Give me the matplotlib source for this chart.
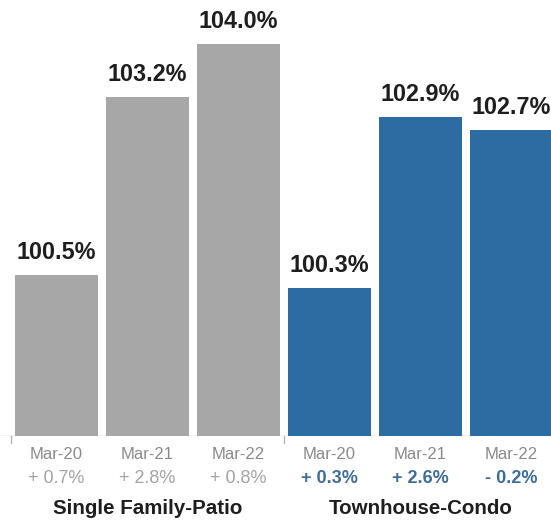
import matplotlib
matplotlib.use("Agg")
import matplotlib.pyplot as plt
from matplotlib.transforms import blended_transform_factory

plt.rcParams["font.family"] = ["Liberation Sans", "DejaVu Sans"]

# Data
groups = ["Single Family-Patio", "Townhouse-Condo"]
periods = ["Mar-20", "Mar-21", "Mar-22"]
single_family = [100.5, 103.2, 104.0]
townhouse = [100.3, 102.9, 102.7]
sf_change = ["+ 0.7%", "+ 2.8%", "+ 0.8%"]
th_change = ["+ 0.3%", "+ 2.6%", "- 0.2%"]

gray = "#a7a7a7"
blue = "#2d6ba3"
label_dark = "#1e1e1e"

W, H = 551, 523
fig = plt.figure(figsize=(W / 100, H / 100), dpi=100)
base_px = 436
ax = fig.add_axes([0, 1 - base_px / H, 1, base_px / H])

pitch = 91.0
x0 = 56.5
ax.set_xlim(-x0 / pitch, (W - x0) / pitch)
px_per_unit = 66.0
ymin = 98.06
ax.set_ylim(ymin, ymin + base_px / px_per_unit)

values = single_family + townhouse
colors = [gray] * 3 + [blue] * 3
xs = list(range(len(values)))
bar_w = 83 / pitch
ax.bar(xs, [v - ymin for v in values], bottom=ymin, width=bar_w,
       color=colors, edgecolor="none", zorder=2)

# Value labels above bars
for x, v in zip(xs, values):
    ax.annotate(f"{v:.1f}%", xy=(x, v), xytext=(0, 11.5),
                textcoords="offset points", ha="center", va="baseline",
                fontsize=16.8, fontweight="bold", color=label_dark)

# Baseline and group separator ticks
ax.axhline(ymin, xmin=0, xmax=1, color="#bdbdbd", lw=1.0, zorder=1)
trans = blended_transform_factory(ax.transData, ax.transAxes)
for bx in (-0.5, 2.5):
    ax.plot([bx, bx], [0, -7 / base_px], transform=trans, color="#b5b5b5",
            lw=1.0, clip_on=False)

# Category labels, changes and group names
changes = sf_change + th_change
change_colors = ["#a3a3a3"] * 3 + ["#3e6d98"] * 3
change_weights = ["normal"] * 3 + ["bold"] * 3
for x, per, ch, cc, cw in zip(xs, periods * 2, changes, change_colors, change_weights):
    ax.annotate(per, xy=(x, 0), xycoords=trans, xytext=(0, -16.6),
                textcoords="offset points", ha="center", va="baseline",
                fontsize=12, color="#8a8a8a")
    ax.annotate(ch, xy=(x, 0), xycoords=trans, xytext=(0, -33.8),
                textcoords="offset points", ha="center", va="baseline",
                fontsize=13, color=cc, fontweight=cw)

for gi, g in enumerate(groups):
    ax.annotate(g, xy=(gi * 3 + 1, 0), xycoords=trans, xytext=(0, -56.5),
                textcoords="offset points", ha="center", va="baseline",
                fontsize=14.8, fontweight="bold", color=label_dark)

ax.axis("off")
fig.savefig("out.png", dpi=100, facecolor="white")
